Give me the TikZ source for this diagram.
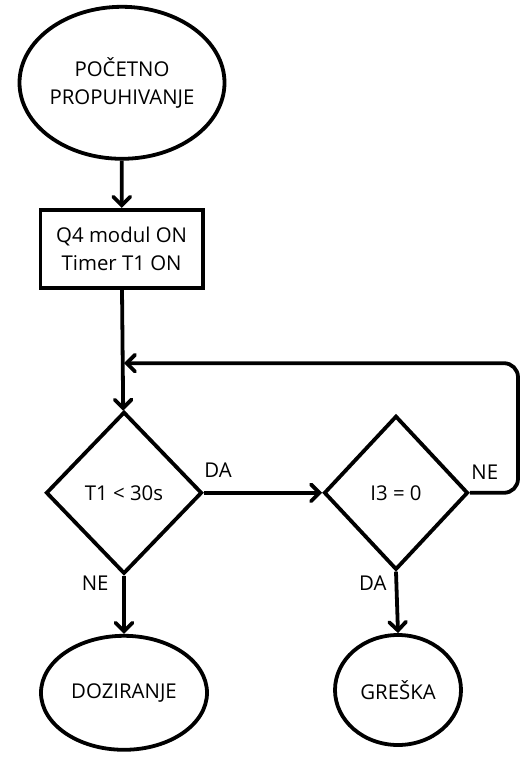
\documentclass[tikz,border=0pt]{standalone}
\usepackage{fontspec}
\setmainfont{Open Sans}
\usetikzlibrary{arrows.meta,positioning,shapes.geometric}

\begin{document}
\begin{tikzpicture}[font=\fontsize{14.5}{19.5}\selectfont,
  line width=2.7pt,
  flow/.style={-{Straight Barb[length=6pt,width=12pt,line cap=round]}},
  term/.style={draw,ellipse,inner sep=0pt,align=center},
  proc/.style={draw,rectangle,inner sep=0pt,align=center},
  test/.style={draw,diamond,inner sep=0pt,align=center}]
 \useasboundingbox (0,0) rectangle (13,-18.975);
 % start
 \node[term,minimum width=4.1cm,minimum height=3.8cm] (start) at (3.05,-2.07){POČETNO\\PROPUHIVANJE};
 \node[proc,minimum width=4.05cm,minimum height=1.95cm] (q4) at (3.04,-6.22){Q4 modul ON\\Timer T1 ON};
 % decisions
 \node[test,minimum width=3.9cm,minimum height=4.05cm] (t1) at (3.1,-12.32){T1 < 30s};
 \node[test,minimum width=3.6cm,minimum height=3.85cm] (i3) at (9.9,-12.32){I3 = 0};
 % ends
 \node[term,minimum width=4.15cm,minimum height=2.85cm] (doz) at (3.1,-17.32){DOZIRANJE};
 \node[term,minimum width=3.15cm,minimum height=2.75cm] (err) at (9.95,-17.25){GREŠKA};
 \coordinate (join) at (3.1,-9.08);
 % arrows
 \draw[flow](start)--(q4);
 \draw[flow](q4)--(t1);
 \draw[flow](t1.east)--(i3.west);
 \draw[flow](t1.south)--(doz.north);
 \draw[flow](i3.south)--(err.north);
 \draw[flow,rounded corners=0.35cm](i3.east)--(12.95,-12.32)--(12.95,-9.08)--(join);
 % labels
 \node (da1) at (5.45,-11.75){DA};
 \node (ne1) at (12.12,-11.8){NE};
 \node (ne2) at (2.38,-14.58){NE};
 \node (da2) at (9.32,-14.58){DA};
\end{tikzpicture}
\end{document}
